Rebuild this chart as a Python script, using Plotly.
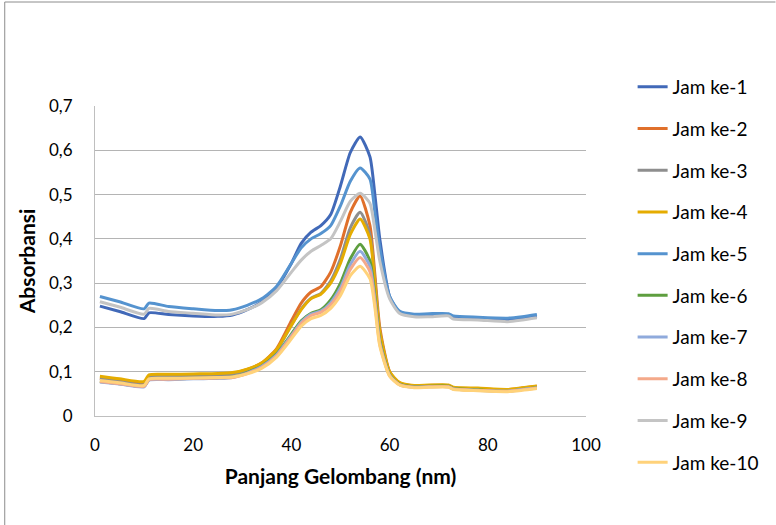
import plotly.graph_objects as go

X = [1, 5, 10, 11, 15, 20, 25, 28, 31, 34, 37, 40, 42, 44, 46, 48, 50, 52, 54, 56, 57, 58, 60, 62, 65, 68, 72, 73, 78, 84, 87, 90]

jam1 = [0.248, 0.236, 0.220, 0.233, 0.229, 0.226, 0.225, 0.228, 0.240, 0.258, 0.290, 0.345, 0.390, 0.415, 0.430, 0.455, 0.520, 0.595, 0.630, 0.585, 0.500, 0.400, 0.270, 0.235, 0.228, 0.228, 0.229, 0.222, 0.219, 0.216, 0.220, 0.226]
jam2 = [0.086, 0.080, 0.073, 0.090, 0.091, 0.092, 0.093, 0.096, 0.105, 0.120, 0.152, 0.215, 0.255, 0.280, 0.292, 0.325, 0.385, 0.460, 0.497, 0.430, 0.320, 0.200, 0.100, 0.075, 0.068, 0.069, 0.069, 0.064, 0.062, 0.059, 0.063, 0.067]
jam3 = [0.084, 0.078, 0.071, 0.088, 0.090, 0.091, 0.092, 0.095, 0.104, 0.118, 0.148, 0.205, 0.242, 0.266, 0.277, 0.305, 0.355, 0.425, 0.460, 0.410, 0.305, 0.190, 0.098, 0.074, 0.067, 0.068, 0.068, 0.063, 0.061, 0.058, 0.062, 0.066]
jam4 = [0.090, 0.084, 0.078, 0.093, 0.094, 0.095, 0.096, 0.098, 0.106, 0.120, 0.150, 0.205, 0.240, 0.265, 0.275, 0.300, 0.345, 0.410, 0.445, 0.400, 0.300, 0.190, 0.100, 0.076, 0.069, 0.070, 0.070, 0.065, 0.063, 0.060, 0.064, 0.068]
jam5 = [0.270, 0.258, 0.242, 0.255, 0.247, 0.242, 0.238, 0.240, 0.250, 0.265, 0.293, 0.345, 0.380, 0.400, 0.412, 0.430, 0.475, 0.530, 0.560, 0.535, 0.460, 0.380, 0.270, 0.237, 0.230, 0.231, 0.231, 0.226, 0.223, 0.221, 0.224, 0.229]
jam6 = [0.078, 0.073, 0.067, 0.082, 0.083, 0.085, 0.086, 0.088, 0.098, 0.113, 0.140, 0.185, 0.215, 0.232, 0.240, 0.262, 0.300, 0.355, 0.388, 0.350, 0.270, 0.170, 0.093, 0.072, 0.066, 0.067, 0.067, 0.062, 0.059, 0.056, 0.060, 0.064]
jam7 = [0.077, 0.072, 0.066, 0.081, 0.082, 0.084, 0.085, 0.087, 0.097, 0.112, 0.138, 0.182, 0.212, 0.230, 0.237, 0.256, 0.290, 0.342, 0.372, 0.338, 0.262, 0.166, 0.092, 0.071, 0.065, 0.066, 0.066, 0.061, 0.058, 0.056, 0.060, 0.063]
jam8 = [0.078, 0.073, 0.067, 0.082, 0.083, 0.085, 0.086, 0.087, 0.096, 0.110, 0.136, 0.179, 0.209, 0.227, 0.234, 0.251, 0.283, 0.331, 0.358, 0.326, 0.255, 0.162, 0.091, 0.071, 0.065, 0.066, 0.066, 0.061, 0.058, 0.056, 0.059, 0.063]
jam9 = [0.258, 0.246, 0.230, 0.243, 0.236, 0.232, 0.228, 0.230, 0.240, 0.256, 0.283, 0.325, 0.352, 0.372, 0.385, 0.400, 0.440, 0.485, 0.503, 0.480, 0.420, 0.350, 0.265, 0.232, 0.224, 0.224, 0.226, 0.219, 0.217, 0.213, 0.217, 0.222]
jam10 = [0.080, 0.075, 0.069, 0.084, 0.085, 0.086, 0.087, 0.088, 0.095, 0.108, 0.133, 0.174, 0.203, 0.220, 0.227, 0.243, 0.272, 0.317, 0.338, 0.310, 0.245, 0.158, 0.090, 0.070, 0.064, 0.065, 0.065, 0.060, 0.057, 0.055, 0.058, 0.062]

names = ["Jam ke-1", "Jam ke-2", "Jam ke-3", "Jam ke-4", "Jam ke-5",
         "Jam ke-6", "Jam ke-7", "Jam ke-8", "Jam ke-9", "Jam ke-10"]
series = [jam1, jam2, jam3, jam4, jam5, jam6, jam7, jam8, jam9, jam10]
colors = ["#4169B8", "#E0702B", "#8E8E8E", "#E5AC00", "#5593CF",
          "#5E9E3F", "#8FAADC", "#F4A98A", "#C4C4C4", "#FFD27A"]

FONT = "Lato, Open Sans, sans-serif"

fig = go.Figure()
for i, (n, s, c) in enumerate(zip(names, series, colors)):
    fig.add_trace(go.Scatter(x=X, y=s, name=n, mode="lines",
                             line=dict(color=c, width=3, shape="spline", smoothing=0.6),
                             legendgroup=f"g{i}"))

W, H = 776, 525
L, R, T, B = 95, 186, 106, 109
pw, ph = W - L - R, H - T - B

def px2paper_x(px):
    return (px - L) / pw

def px2paper_y(py):
    return (H - B - py) / ph

fig.update_layout(
    width=W, height=H,
    margin=dict(l=L, r=R, t=T, b=B),
    paper_bgcolor="white", plot_bgcolor="white",
    separators=",.",
    font=dict(family=FONT, size=17, color="#000000"),
    showlegend=True,
    legend=dict(x=px2paper_x(637), y=px2paper_y(68), xanchor="left", yanchor="top",
                font=dict(family=FONT, size=19, color="#000000"),
                tracegroupgap=14, bgcolor="rgba(0,0,0,0)", maxheight=500),
    xaxis=dict(range=[0, 100], dtick=20, tick0=0, showgrid=False, zeroline=False,
               showline=True, linecolor="#BFBFBF", linewidth=1, ticks="",
               tickfont=dict(size=17), ticklabelstandoff=14,
               title=dict(text="<b>Panjang Gelombang (nm)</b>", font=dict(size=21), standoff=14)),
    yaxis=dict(range=[0, 0.7], dtick=0.1, tick0=0, showgrid=True, gridcolor="#B4B4B4",
               gridwidth=1, zeroline=False, showline=True, linecolor="#BFBFBF", linewidth=1,
               ticks="", tickfont=dict(size=17), ticklabelstandoff=18,
               title=dict(text="<b>Absorbansi</b>", font=dict(size=21), standoff=7)),
    shapes=[
        dict(type="line", xref="paper", yref="paper",
             x0=px2paper_x(4), x1=px2paper_x(W + 5), y0=px2paper_y(2), y1=px2paper_y(2),
             line=dict(color="#8C8C8C", width=1)),
        dict(type="line", xref="paper", yref="paper",
             x0=px2paper_x(4), x1=px2paper_x(4), y0=px2paper_y(2), y1=px2paper_y(H + 5),
             line=dict(color="#8C8C8C", width=1)),
    ],
)

fig.write_html("out.html")
